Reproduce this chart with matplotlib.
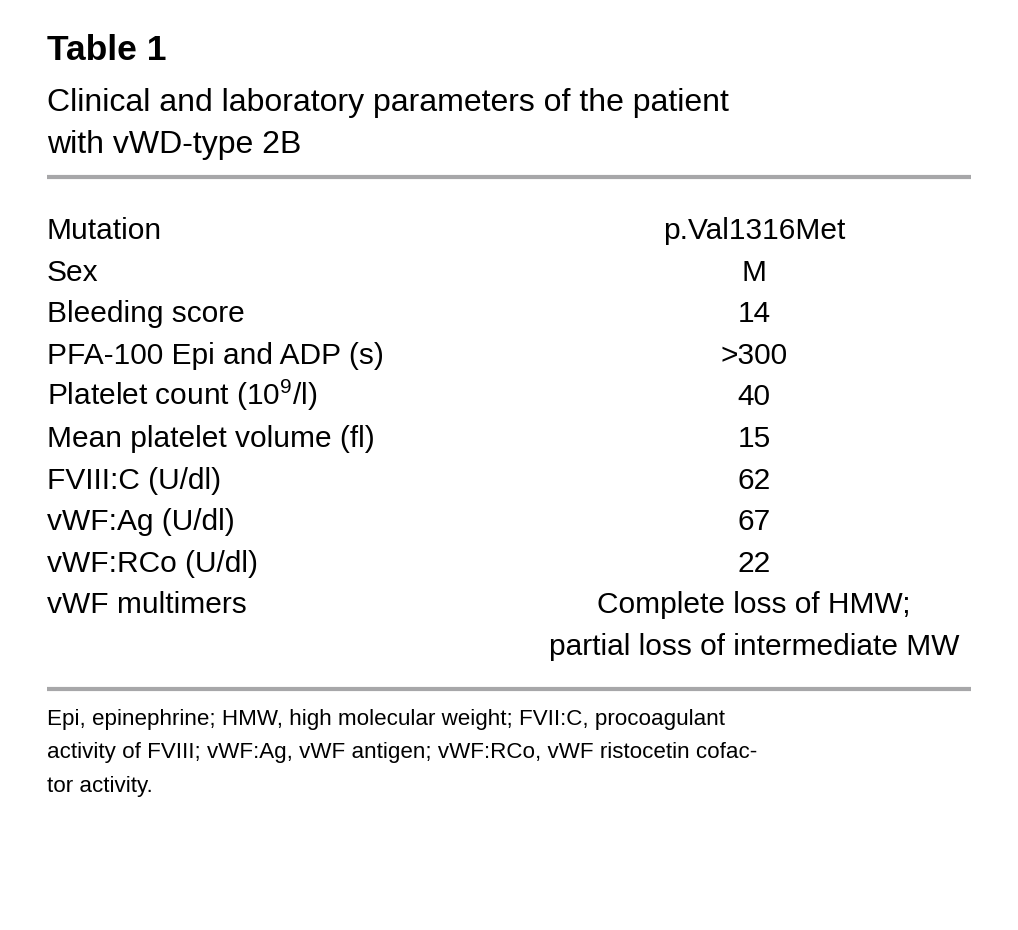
import matplotlib
matplotlib.use('Agg')
import matplotlib.pyplot as plt
from matplotlib import font_manager

names = set(f.name for f in font_manager.fontManager.ttflist)
narrow = 'Liberation Sans Narrow' if 'Liberation Sans Narrow' in names else 'Liberation Sans'

plt.rcParams['mathtext.fontset'] = 'custom'
plt.rcParams['mathtext.rm'] = narrow
plt.rcParams['mathtext.it'] = narrow

title = 'Table 1'
subtitle = ['Clinical and laboratory parameters of the patient', 'with vWD-type 2B']
params = ['Mutation', 'Sex', 'Bleeding score', 'PFA-100 Epi and ADP (s)',
          'Platelet count (10$^{9}$/l)', 'Mean platelet volume (fl)', 'FVIII:C (U/dl)',
          'vWF:Ag (U/dl)', 'vWF:RCo (U/dl)', 'vWF multimers', '']
values = ['p.Val1316Met', 'M', '14', '>300', '40', '15', '62', '67', '22',
          'Complete loss of HMW;', 'partial loss of intermediate MW']
footnote = ['Epi, epinephrine; HMW, high molecular weight; FVII:C, procoagulant',
            'activity of FVIII; vWF:Ag, vWF antigen; vWF:RCo, vWF ristocetin cofac-',
            'tor activity.']

W, H = 1018, 930
fig = plt.figure(figsize=(W / 100, H / 100), dpi=100)
ax = fig.add_axes([0, 0, 1, 1])
ax.set_xlim(0, W)
ax.set_ylim(H, 0)
ax.axis('off')

# heading
ax.text(47, 50, title, fontsize=25.5, fontweight='bold', family='Liberation Sans', va='center')
for i, s in enumerate(subtitle):
    ax.text(47, 103 + i * 42, s, fontsize=23, family=narrow, va='center')

ax.plot([47, 971], [177, 177], color='#a7a7a9', lw=3, solid_capstyle='butt')

# table rows, aligned on the baseline
for i, (p, v) in enumerate(zip(params, values)):
    y = 239 + i * 41.6
    ax.text(47, y, p, fontsize=21.5, family=narrow, va='baseline')
    ax.text(754, y, v, fontsize=21.5, family=narrow, va='baseline', ha='center')

ax.plot([47, 971], [689, 689], color='#a7a7a9', lw=3, solid_capstyle='butt')

# footnote
for i, s in enumerate(footnote):
    ax.text(47, 719 + i * 33.5, s, fontsize=16.1, family='Liberation Sans', va='center')

fig.savefig('out.png', dpi=100)
